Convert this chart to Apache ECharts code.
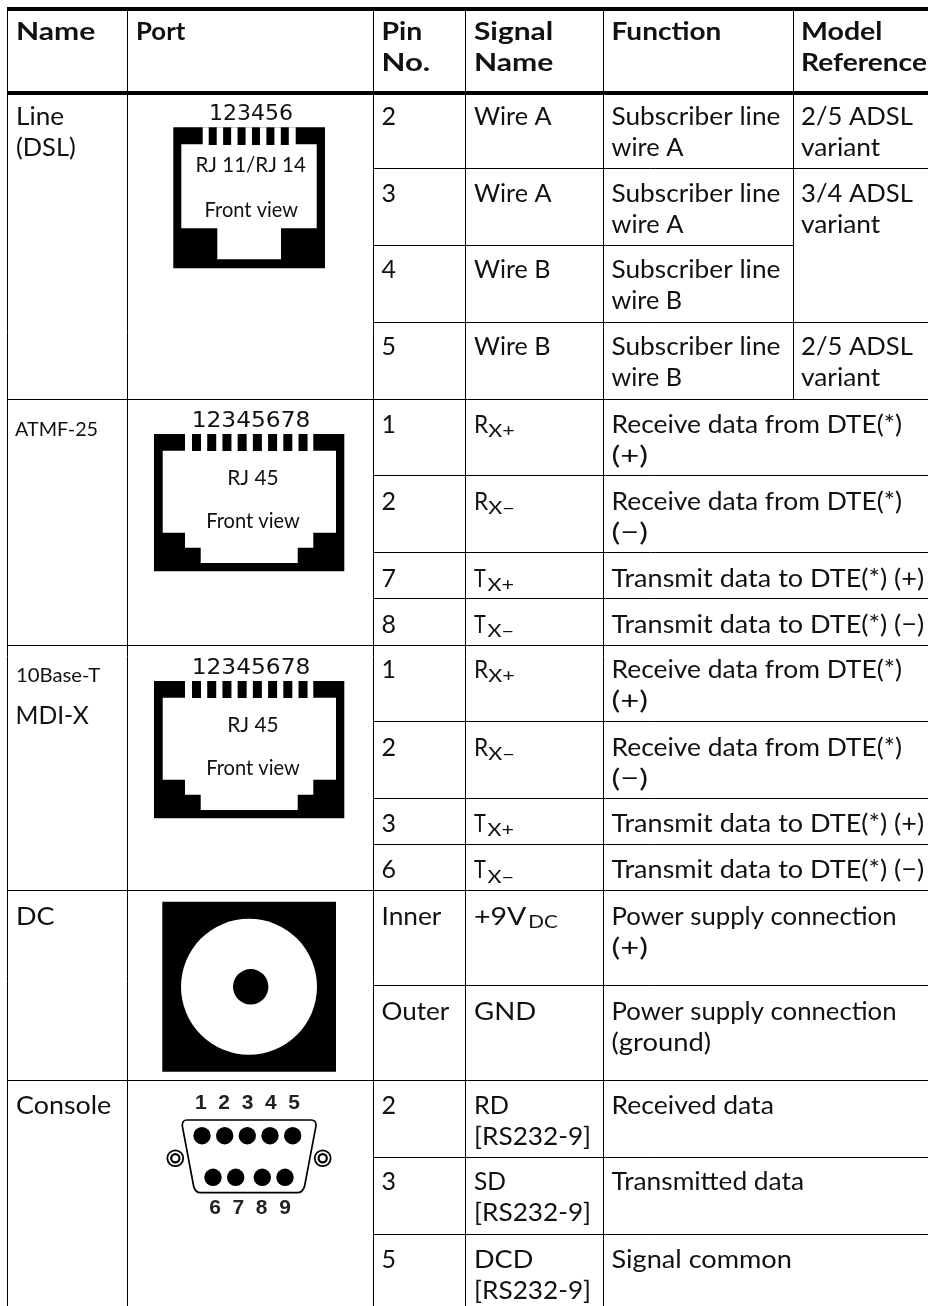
<!DOCTYPE html>
<html><head><meta charset="utf-8">
<style>html,body{margin:0;padding:0;background:#fff}#c{width:928px;height:1306px}</style>
<script src="https://cdn.jsdelivr.net/npm/echarts@6/dist/echarts.min.js"></script>
</head><body><div id="c"></div>
<script>
// ---- table content ----
const headers = ['Name','Port','Pin\nNo.','Signal\nName','Function','Model\nReference'];
const pins = ['2','3','4','5','1','2','7','8','1','2','3','6','Inner','Outer','2','3','5'];
const signals = ['Wire A','Wire A','Wire B','Wire B','R_X+','R_X\u2212','T_X+','T_X\u2212','R_X+','R_X\u2212','T_X+','T_X\u2212','+9V_DC','GND','RD\n[RS232-9]','SD\n[RS232-9]','DCD\n[RS232-9]'];
const functions = ['Subscriber line\nwire A','Subscriber line\nwire A','Subscriber line\nwire B','Subscriber line\nwire B',
 'Receive data from DTE(*)\n(+)','Receive data from DTE(*)\n(\u2212)','Transmit data to DTE(*) (+)','Transmit data to DTE(*) (\u2212)',
 'Receive data from DTE(*)\n(+)','Receive data from DTE(*)\n(\u2212)','Transmit data to DTE(*) (+)','Transmit data to DTE(*) (\u2212)',
 'Power supply connection\n(+)','Power supply connection\n(ground)','Received data','Transmitted data','Signal common'];
const models = ['2/5 ADSL\nvariant','3/4 ADSL\nvariant','','2/5 ADSL\nvariant'];
const sectionNames = ['Line\n(DSL)','ATMF-25','10Base-T','MDI-X','DC','Console'];

// ---- layout (page units, read through the hidden axes) ----
const L = {
 cols:[7.5,127.5,373.5,465.5,603.5,793.5,928], textX:[16,136,381.5,474,611.5,801],
 topRule:[7,11], headRule:[91,95],
 sub:[168.5,245.5,322.5,475.5,552.5,598.5,721.5,798.5,844.5,985.5,1157.5,1234.5],
 section:[399.5,645.5,890.5,1080.5],
 base:[124.7,201.7,277.7,354.7,432.7,509.7,586.7,632.7,677.7,755.7,831.7,878,924.7,1019.7,1113.7,1189.7,1267.7],
 headBase:40, lead:31, size:25, bottom:1306
};
// ink widths of the strings in the reference, used to fit the substitute font
const WIDTHS = {'Name':76.5,'Port':48,'Pin':37.3,'No.':45,'Signal':77.7,'Function':106.3,'Model':77.7,'Reference':123.3,
 'Line':45.7,'(DSL)':58,'Wire A':77.7,'Wire B':75.3,'Subscriber line':168.7,'wire A':72,'wire B':69.3,'2/5 ADSL':111,'3/4 ADSL':111,'variant':79.3,
 'Receive data from DTE(*)':287.7,'Transmit data to DTE(*) (+)':312,'Transmit data to DTE(*) (\u2212)':312,'Power supply connection':282,'(ground)':97.7,
 'Received data':158.7,'Transmitted data':191,'Signal common':179.3,'RD':32,'[RS232-9]':113.3,'SD':31,'DCD':56,'GND':60,'Inner':57.7,'Outer':66.7,
 'Console':94,'DC':36.7,'(+)':34.3,'(\u2212)':34.3,'10Base-T':83,'ATMF-25':82,'MDI-X':71,'Front view':93,'RJ 45':49.3,'RJ 11/RJ 14':109.3,'123456':81.7,'12345678':115,
 'X+':26,'X\u2212':26,'+9V':51.3,'R':12.7,'T':12};
const SUBW = {'DC':28.3};
const FONT='Lato', INK='#111';

const mCtx=document.createElement('canvas').getContext('2d');
function measure(t,size,weight,family){mCtx.font=`${weight} ${size}px "${family}"`;mCtx.textBaseline='middle';return mCtx.measureText(t);}
function inkW(m){return m.actualBoundingBoxLeft+m.actualBoundingBoxRight;}
function T(api,text,x,base,o){o=o||{};const size=o.size||L.size,w=o.weight||'normal',f=o.family||FONT;
 const d=measure('H',size,w,f).actualBoundingBoxDescent;
 const pb=api.coord([x,base]);
 const target=o.width||(o.noFit?0:WIDTHS[text]);
 const sx=target?target/inkW(measure(text,size,w,f)):1;
 return {type:'text',x:pb[0],y:pb[1]-d,scaleX:sx,scaleY:1,originX:0,originY:0,silent:true,style:{text,fill:o.fill||INK,fontFamily:f,fontSize:size,fontWeight:w,textAlign:o.align||'left',textVerticalAlign:'middle'}};}
function multi(api,str,x,base,o){
 const out=[];str.split('\n').forEach((ln,i)=>{const parts=ln.split('_');out.push(T(api,parts[0],x,base+i*L.lead,o));
  if(parts[1]){const w=WIDTHS[parts[0]]+ (parts[0]==='+9V'?3:1.5);out.push(T(api,parts[1],x+w,base+(parts[0]==='+9V'?3.5:4.5),{size:18,width:SUBW[parts[1]]}));}});
 return out;}

function rect(api,x0,y0,x1,y1,fill){const a=api.coord([x0,y0]),b=api.coord([x1,y1]);return {type:'rect',silent:true,shape:{x:a[0],y:a[1],width:b[0]-a[0],height:b[1]-a[1]},style:{fill:fill||'#000'}};}
function poly(api,pts,fill){return {type:'polygon',silent:true,shape:{points:pts.map(p=>api.coord(p))},style:{fill:fill||'#fff'}};}
function disc(api,x,y,r,fill){const c=api.coord([x,y]);return {type:'circle',silent:true,shape:{cx:c[0],cy:c[1],r},style:{fill:fill||'#000'}};}

// ---- rules: [x0,y0,x1,y1,width]
const rules=[];
for(let i=0;i<5;i++)rules.push([L.cols[i],L.topRule[0],L.cols[i],L.bottom,1]);
rules.push([L.cols[5],L.topRule[0],L.cols[5],L.section[0],1]);
L.section.forEach(y=>rules.push([L.cols[0],y,L.cols[6],y,1]));
L.sub.forEach(y=>rules.push([L.cols[2],y,y===245.5?L.cols[5]:L.cols[6],y,1]));
rules.push([7,9,928,9,4]);
rules.push([7,93,928,93,4]);

function renderRule(p,api){const a=api.coord([api.value(0),api.value(1)]),b=api.coord([api.value(2),api.value(3)]);
 return {type:'line',silent:true,shape:{x1:a[0],y1:a[1],x2:b[0],y2:b[1]},style:{stroke:'#000',lineWidth:api.value(4)}};}

// ---- text
function renderText(p,api){
 const ch=[];
 headers.forEach((h,i)=>ch.push(...multi(api,h,L.textX[i],L.headBase,{weight:'bold'})));
 pins.forEach((t,i)=>ch.push(...multi(api,t,L.textX[2],L.base[i])));
 signals.forEach((t,i)=>ch.push(...multi(api,t,L.textX[3],L.base[i])));
 functions.forEach((t,i)=>ch.push(...multi(api,t,L.textX[4],L.base[i])));
 models.forEach((t,i)=>{if(t)ch.push(...multi(api,t,L.textX[5],L.base[i]));});
 ch.push(...multi(api,sectionNames[0],L.textX[0],124.7));
 ch.push(T(api,sectionNames[1],15,436,{size:19}));
 ch.push(T(api,sectionNames[2],16,682,{size:19}));
 ch.push(T(api,sectionNames[3],15.5,723.7));
 ch.push(T(api,sectionNames[4],16,924.7));
 ch.push(T(api,sectionNames[5],16,1113.7));
 return {type:'group',children:ch};
}

// ---- connector drawings
const ICON={size:21,align:'center'};
const DIGITS={size:21,align:'center',family:'DejaVu Sans'};
function bars(api,x0,n,period,w,y0,y1){const o=[];for(let i=0;i<n;i++)o.push(rect(api,x0+i*period,y0,x0+i*period+w,y1,'#000'));return o;}
function renderRJ11(p,api){return {type:'group',children:[
 T(api,'123456',251,119.5,DIGITS),
 rect(api,173.3,127.3,325,268.3),
 poly(api,[[181.3,144.3],[316.7,144.3],[316.7,228.3],[281,228.3],[281,259.3],[217.3,259.3],[217.3,228.3],[181.3,228.3]]),
 rect(api,202.7,127.3,295.7,145,'#fff'),
 ...bars(api,208.7,6,14.42,8,127.3,145),
 T(api,'RJ 11/RJ 14',250.7,171.5,ICON),
 T(api,'Front view',251.3,216.5,ICON)
]};}
function renderRJ45(p,api){const d=api.value(0);return {type:'group',children:[
 T(api,'12345678',251,426.5+d,DIGITS),
 rect(api,154,434+d,344.3,571.3+d),
 poly(api,[[162.7,450.7+d],[336,450.7+d],[336,532.7+d],[313.3,532.7+d],[313.3,547.7+d],[297.7,547.7+d],[297.7,563+d],[200.7,563+d],[200.7,547.7+d],[185,547.7+d],[185,532.7+d],[162.7,532.7+d]]),
 rect(api,185,434+d,313.3,451+d,'#fff'),
 ...bars(api,192,8,15.22,9,434+d,451+d),
 T(api,'RJ 45',253,484.5+d,ICON),
 T(api,'Front view',253,527.8+d,ICON)
]};}
function renderDC(p,api){return {type:'group',children:[
 rect(api,162.3,901.7,336,1071.7), disc(api,249,986.7,68,'#fff'), disc(api,250.7,986.8,17.7,'#000')
]};}
function renderDB9(p,api){
 const top=[202,224.7,247.3,270,292.7],bot=[213,235.7,262.3,285];
 const c=(x,y)=>api.coord([x,y]);
 const shell=[['M',187,1120],['L',311,1120],['Q',316.5,1120,316,1126],['L',304.6,1186],['Q',303,1192.7,297,1192.7],['L',201,1192.7],['Q',195,1192.7,193.6,1186],['L',182.3,1126],['Q',182,1120,187,1120]];
 const d=shell.map(s=>{if(s[0]==='Q'){const a=c(s[1],s[2]),b=c(s[3],s[4]);return `Q${a[0]} ${a[1]} ${b[0]} ${b[1]}`;}const a=c(s[1],s[2]);return `${s[0]}${a[0]} ${a[1]}`;}).join(' ')+'Z';
 const screws=[];[175.3,322.7].forEach(x=>{screws.push(disc(api,x,1158.3,8.8,'#000'),disc(api,x,1158.3,7,'#fff'),disc(api,x,1158.3,5.2,'#000'),disc(api,x,1158.3,3,'#fff'));});
 const BOLD={size:21,weight:'bold',family:'Liberation Sans',align:'center',fill:'#222'};
 return {type:'group',children:[
  T(api,'1  2  3  4  5',247.5,1109.3,BOLD),
  {type:'path',silent:true,shape:{pathData:d},style:{fill:'#fff',stroke:'#000',lineWidth:1.7}},
  ...top.map(x=>disc(api,x,1135.7,8.7)),...bot.map(x=>disc(api,x,1177.3,8.7)),...screws,
  T(api,'6  7  8  9',250,1214.3,BOLD)
 ]};}

const chart=echarts.init(document.getElementById('c'),null,{renderer:'canvas'});
const one=(fn,data)=>({type:'custom',coordinateSystem:'cartesian2d',renderItem:fn,data:data||[[0,0]],clip:false,silent:true,animation:false,encode:{x:0,y:1}});
chart.setOption({
 animation:false,backgroundColor:'#fff',
 grid:{left:0,top:0,width:928,height:1306,containLabel:false},
 xAxis:{type:'value',min:0,max:928,show:false},
 yAxis:{type:'value',min:0,max:1306,inverse:true,show:false},
 series:[one(renderRule,rules),one(renderRJ11),one(renderRJ45,[[0,0],[247,0]]),one(renderDC),one(renderDB9),one(renderText)]
});
</script></body></html>
